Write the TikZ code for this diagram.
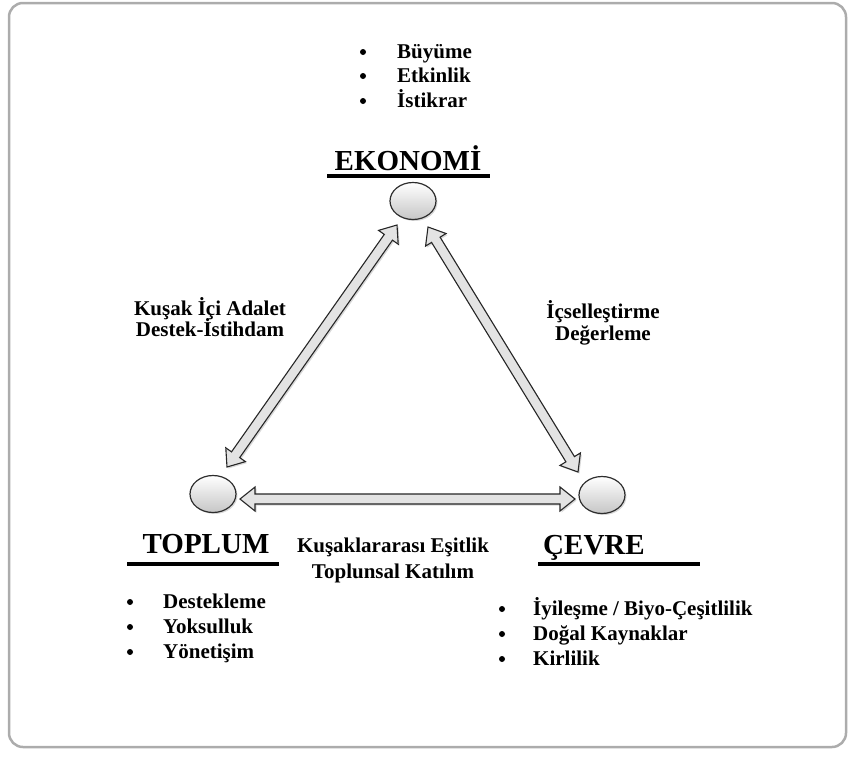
\documentclass[tikz,border=0pt]{standalone}
\usepackage{fontspec}
\setmainfont{Liberation Serif}[BoldFont={Liberation Serif Bold}]
\usetikzlibrary{calc,shapes.geometric,shadows}
\tikzset{
 frame/.style={draw=gray!65, line width=2.5pt, rounded corners=14pt},
 head/.style={font=\rmfamily\fontsize{29}{30}\selectfont\bfseries, anchor=base, inner sep=0pt},
 lbl/.style={font=\rmfamily\fontsize{21}{22}\selectfont\bfseries, anchor=base, inner sep=0pt},
 item/.style={font=\rmfamily\fontsize{21}{22}\selectfont\bfseries, anchor=base west, inner sep=0pt},
 dot/.style={circle, fill=black, inner sep=0pt, minimum size=6pt},
 bar/.style={line width=4pt, black},
 pole/.style={ellipse, draw=gray!35!black, line width=1.2pt, top color=white, bottom color=gray!45,
   minimum width=46pt, minimum height=37pt, inner sep=0pt,
   drop shadow={opacity=0.3, shadow xshift=1.5pt, shadow yshift=-1.5pt}},
 arr/.style={draw=gray!30!black, line width=1.1pt, fill=gray!22, line join=miter,
   drop shadow={opacity=0.3, shadow xshift=1.5pt, shadow yshift=-1.5pt}},
}
\newcommand{\dblarr}[2]{%
 \draw[arr] (#1) -- ($(#1)!15pt!(#2)!12pt!90:(#2)$) -- ($(#1)!15pt!(#2)!5pt!90:(#2)$)
  -- ($(#2)!15pt!(#1)!5pt!-90:(#1)$) -- ($(#2)!15pt!(#1)!12pt!-90:(#1)$) -- (#2)
  -- ($(#2)!15pt!(#1)!12pt!90:(#1)$) -- ($(#2)!15pt!(#1)!5pt!90:(#1)$)
  -- ($(#1)!15pt!(#2)!5pt!-90:(#2)$) -- ($(#1)!15pt!(#2)!12pt!-90:(#2)$) -- cycle;}
\begin{document}
\begin{tikzpicture}[x=1pt, y=-1pt]
\useasboundingbox (0,0) rectangle (849,758);
\draw[frame] (9,3) rectangle (846,747);

% poles
\node[pole] (eko) at (413,201) {};
\node[pole] (top) at (213,494) {};
\node[pole] (cev) at (602,495) {};

% arrow tips
\coordinate (lA) at (397,225);
\coordinate (lB) at (227,467);
\coordinate (rA) at (428,227);
\coordinate (rB) at (578,472);
\coordinate (hA) at (240,499);
\coordinate (hB) at (575,499);
\dblarr{lA}{lB}
\dblarr{rA}{rB}
\dblarr{hA}{hB}

% headings
\node[head] (hEko) at (408,170) {EKONOMİ};
\node[head] (hTop) at (206,553) {TOPLUM};
\node[head] (hCev) at (594,554) {ÇEVRE};
\coordinate (uEa) at (327,176); \coordinate (uEb) at (490,176);
\coordinate (uTa) at (127,564); \coordinate (uTb) at (279,564);
\coordinate (uCa) at (538,564); \coordinate (uCb) at (700,564);
\draw[bar] (uEa) -- (uEb);
\draw[bar] (uTa) -- (uTb);
\draw[bar] (uCa) -- (uCb);

% edge labels
\node[lbl] (k1) at (210,315) {Kuşak İçi Adalet};
\node[lbl] (k2) at (210,336) {Destek-İstihdam};
\node[lbl] (i1) at (603,318) {İçselleştirme};
\node[lbl] (i2) at (603,340) {Değerleme};
\node[lbl] (t1) at (393,552) {Kuşaklararası Eşitlik};
\node[lbl] (t2) at (393,578) {Toplunsal Katılım};

% Ekonomi list
\node[dot] (de1) at (363,52) {}; \node[item] (e1) at (397,58) {Büyüme};
\node[dot] (de2) at (363,76) {}; \node[item] (e2) at (397,82) {Etkinlik};
\node[dot] (de3) at (363,101) {}; \node[item] (e3) at (397,107) {İstikrar};

% Toplum list
\node[dot] (dt1) at (130,602) {}; \node[item] (t1i) at (163,608) {Destekleme};
\node[dot] (dt2) at (130,627) {}; \node[item] (t2i) at (163,633) {Yoksulluk};
\node[dot] (dt3) at (130,652) {}; \node[item] (t3i) at (163,658) {Yönetişim};

% Cevre list
\node[dot] (dc1) at (502,609) {}; \node[item] (c1) at (533,615) {İyileşme / Biyo-Çeşitlilik};
\node[dot] (dc2) at (502,634) {}; \node[item] (c2) at (533,640) {Doğal Kaynaklar};
\node[dot] (dc3) at (502,659) {}; \node[item] (c3) at (533,665) {Kirlilik};
\end{tikzpicture}
\end{document}
